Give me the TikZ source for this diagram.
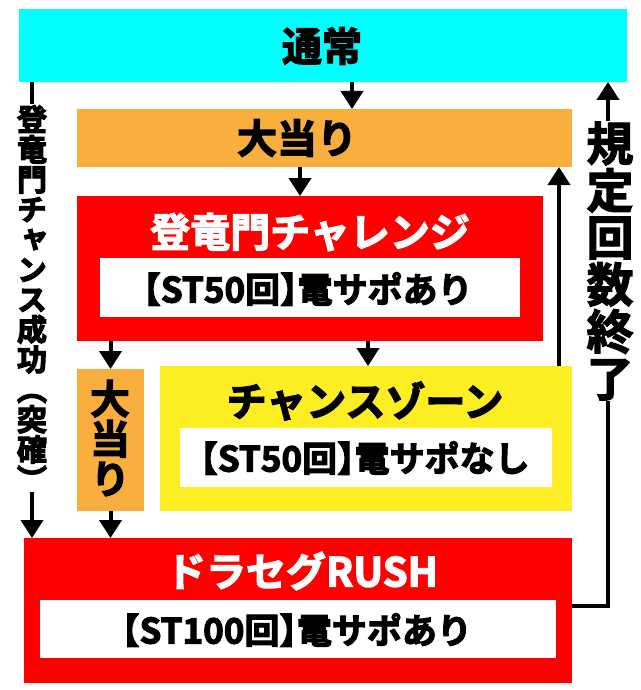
\documentclass[tikz,border=0pt]{standalone}
\usepackage{fontspec}
\setmainfont{Noto Sans CJK JP}[UprightFont=*, BoldFont=* Bold]
\newfontfamily\jpv{Noto Sans CJK JP}[UprightFont=*, BoldFont=* Bold, RawFeature=+vert]
\newfontfamily\jph{Noto Sans CJK JP}[UprightFont=*, BoldFont=* Bold, RawFeature=+halt]
\newcommand\lbk{{\jph\bfseries 【}}
\newcommand\rbk{{\jph\bfseries 】}}
\newcommand\thick[1]{\special{pdf:literal direct 2 Tr #1 w}}
\usetikzlibrary{arrows.meta}
\definecolor{cyanbox}{HTML}{00FFFF}
\definecolor{orangebox}{HTML}{F9AF3E}
\definecolor{redbox}{HTML}{FF0000}
\definecolor{yellowbox}{HTML}{FCEE23}
\begin{document}
\begin{tikzpicture}[x=1pt,y=-1pt,
  box/.style={inner sep=0pt, outer sep=0pt, draw=none},
  arr/.style={line width=4pt, line join=miter, -{Triangle[width=22pt,length=18pt]}},
  ttl/.style={font=\bfseries\fontsize{40}{40}\selectfont\thick{1.3}, inner sep=0pt},
  sub/.style={font=\bfseries\fontsize{35}{35}\selectfont\thick{1.1}, inner sep=0pt},
  vlab/.style={font=\jpv\bfseries\fontsize{#1}{#1}\selectfont\thick{1.2}, align=center, inner sep=1pt, fill=white}
]
\useasboundingbox (0,0) rectangle (640,690);
\fill[white] (0,0) rectangle (640,690);
% boxes
\node[box, fill=cyanbox, minimum width=608pt, minimum height=73pt] (tsujo) at (323,45.5) {};
\node[box, fill=orangebox, minimum width=495pt, minimum height=58pt] (oat1) at (324.5,138) {};
\node[box, fill=redbox, minimum width=466pt, minimum height=145pt] (tour) at (310,268.5) {};
\node[box, fill=white, minimum width=420pt, minimum height=59pt] (in1) at (310,287.5) {};
\node[box, fill=orangebox, minimum width=67pt, minimum height=142pt] (oat2) at (110.5,440) {};
\node[box, fill=yellowbox, minimum width=412pt, minimum height=145pt] (chance) at (366,438.5) {};
\node[box, fill=white, minimum width=372pt, minimum height=59pt] (in2) at (366,457.5) {};
\node[box, fill=redbox, minimum width=548pt, minimum height=145pt] (rush) at (298,610.5) {};
\node[box, fill=white, minimum width=516pt, minimum height=58pt] (in3) at (298,629) {};
% texts
\node[ttl] (t1) at (322,46) {通常};
\node[ttl] (t2) at (297,138) {大当り};
\node[ttl, text=white] (t3) at (310,232) {登竜門チャレンジ};
\node[sub] (t4) at (308,289) {\lbk ST50回\rbk 電サポあり};
\node[ttl] (t5) at (365,401) {チャンスゾーン};
\node[sub] (t6) at (365,458) {\lbk ST50回\rbk 電サポなし};
\node[ttl, text=white] (t7) at (302,571) {ドラセグRUSH};
\node[sub] (t8) at (297,630) {\lbk ST100回\rbk 電サポあり};
\node[vlab=40, fill=none] (t9) at (110,438) {大\\当\\り};
% connectors
\coordinate (a1) at (352,0);
\draw[arr] (tsujo.south -| a1) -- (oat1.north -| a1);
\coordinate (a2) at (300,0);
\draw[arr] (oat1.south -| a2) -- (tour.north -| a2);
\draw[arr] (tour.south -| oat2) -- (oat2.north);
\coordinate (a3) at (368,0);
\draw[arr] (tour.south -| a3) -- (chance.north -| a3);
\draw[arr] (oat2.south) -- (rush.north -| oat2);
\coordinate (a4) at (559,0);
\draw[arr] (chance.north -| a4) -- (oat1.south -| a4);
\coordinate (rt) at (608,606);
\draw[arr] (rush.east |- rt) -- (rt) -- (tsujo.south -| rt);
\coordinate (lt) at (32,0);
\draw[arr] (tsujo.south -| lt) -- (rush.north -| lt);
% vertical labels
\node[vlab=30] (lab1) at (32,298) {登\\竜\\門\\チ\\ャ\\ン\\ス\\成\\功\\︵\\突\\確\\︶};
\node[vlab=47] (lab2) at (610,261) {規\\定\\回\\数\\終\\了};
\end{tikzpicture}
\end{document}
